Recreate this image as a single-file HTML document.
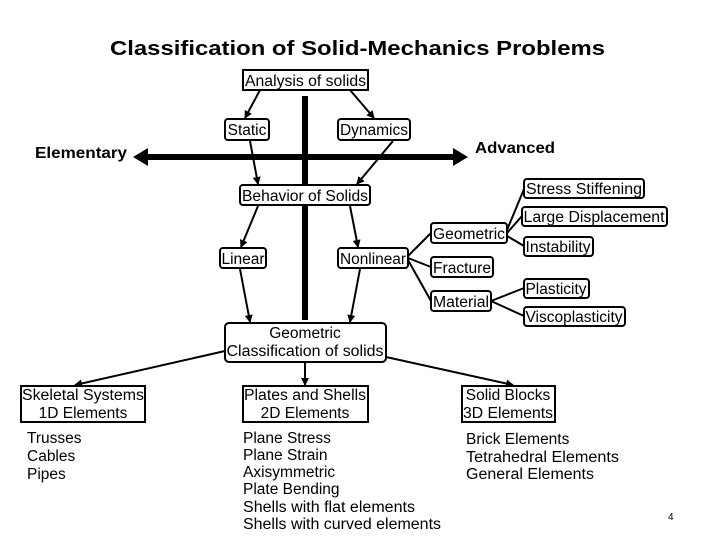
<!DOCTYPE html>
<html><head><meta charset="utf-8"><style>
body{margin:0;background:#fff;}
svg{display:block;}
text{font-family:"Liberation Sans",sans-serif;fill:#000;}
</style></head><body>
<svg width="719" height="539" viewBox="0 0 719 539" xmlns="http://www.w3.org/2000/svg">
<defs>
<marker id="a" markerWidth="8" markerHeight="8" refX="7" refY="4" orient="auto" markerUnits="userSpaceOnUse"><path d="M0,0 L8,4 L0,8 z" fill="#000"/></marker>
</defs>
<text x="110" y="55" font-size="20" font-weight="bold" textLength="495" lengthAdjust="spacingAndGlyphs">Classification of Solid-Mechanics Problems</text>
<rect x="302" y="96" width="6" height="224" fill="#000"/>
<line x1="145" y1="157" x2="455" y2="157" stroke="#000" stroke-width="6"/>
<path d="M133,157 L148,148 L148,166 z" fill="#000"/>
<path d="M468,157 L453,148 L453,166 z" fill="#000"/>
<text x="35" y="158" font-size="16" font-weight="bold" textLength="92" lengthAdjust="spacingAndGlyphs">Elementary</text>
<text x="475" y="153" font-size="16" font-weight="bold" textLength="80" lengthAdjust="spacingAndGlyphs">Advanced</text>
<g fill="#fff" stroke="#000" stroke-width="2">
<rect x="243" y="70" width="125" height="20"/>
<rect x="225" y="119" width="44" height="21" rx="3"/>
<rect x="338" y="119" width="72" height="21" rx="3"/>
<rect x="240" y="185" width="130" height="20" rx="3"/>
<rect x="220" y="248" width="46" height="20" rx="3"/>
<rect x="338" y="248" width="70" height="20" rx="3"/>
<rect x="431" y="223" width="76" height="20" rx="3"/>
<rect x="431" y="257" width="62" height="20" rx="3"/>
<rect x="431" y="291" width="60" height="20" rx="3"/>
<rect x="524" y="179" width="120" height="19" rx="3"/>
<rect x="522" y="207" width="145" height="19" rx="3"/>
<rect x="524" y="237" width="69" height="19" rx="3"/>
<rect x="524" y="279" width="65" height="19" rx="3"/>
<rect x="524" y="307" width="101" height="19" rx="3"/>
<rect x="225" y="323" width="161" height="39" rx="4"/>
<rect x="21" y="386" width="124" height="36"/>
<rect x="243" y="386" width="125" height="36"/>
<rect x="462" y="386" width="93" height="36"/>
</g>
<g stroke="#000" stroke-width="2" fill="none">
<line x1="260" y1="90" x2="245" y2="118" marker-end="url(#a)"/>
<line x1="350" y1="90" x2="374" y2="118" marker-end="url(#a)"/>
<line x1="250" y1="141" x2="258" y2="184" marker-end="url(#a)"/>
<line x1="393" y1="141" x2="357" y2="184" marker-end="url(#a)"/>
<line x1="258" y1="206" x2="241" y2="247" marker-end="url(#a)"/>
<line x1="350" y1="206" x2="358" y2="247" marker-end="url(#a)"/>
<line x1="240" y1="269" x2="250" y2="322" marker-end="url(#a)"/>
<line x1="360" y1="269" x2="350" y2="322" marker-end="url(#a)"/>
<line x1="408" y1="256" x2="431" y2="233"/>
<line x1="408" y1="258" x2="431" y2="267"/>
<line x1="408" y1="260" x2="431" y2="301"/>
<line x1="507" y1="230" x2="524" y2="189"/>
<line x1="507" y1="233" x2="522" y2="216"/>
<line x1="507" y1="236" x2="524" y2="246"/>
<line x1="491" y1="301" x2="524" y2="288"/>
<line x1="491" y1="301" x2="524" y2="316"/>
<line x1="225" y1="351" x2="75" y2="385" marker-end="url(#a)"/>
<line x1="386" y1="357" x2="513" y2="385" marker-end="url(#a)"/>
<line x1="305" y1="362" x2="305" y2="385" marker-end="url(#a)"/>
</g>
<g font-size="15.5">
<text x="305.5" y="86" text-anchor="middle" textLength="121" lengthAdjust="spacingAndGlyphs">Analysis of solids</text>
<text x="247" y="135" text-anchor="middle">Static</text>
<text x="374" y="135" text-anchor="middle" textLength="68" lengthAdjust="spacingAndGlyphs">Dynamics</text>
<text x="305" y="201" text-anchor="middle" textLength="126" lengthAdjust="spacingAndGlyphs">Behavior of Solids</text>
<text x="243" y="264" text-anchor="middle">Linear</text>
<text x="373" y="264" text-anchor="middle" textLength="66" lengthAdjust="spacingAndGlyphs">Nonlinear</text>
<text x="469" y="239" text-anchor="middle" textLength="72" lengthAdjust="spacingAndGlyphs">Geometric</text>
<text x="462" y="273" text-anchor="middle" textLength="58" lengthAdjust="spacingAndGlyphs">Fracture</text>
<text x="461" y="307" text-anchor="middle" textLength="56" lengthAdjust="spacingAndGlyphs">Material</text>
<text x="584" y="194" text-anchor="middle" textLength="116" lengthAdjust="spacingAndGlyphs">Stress Stiffening</text>
<text x="594" y="222" text-anchor="middle" textLength="141" lengthAdjust="spacingAndGlyphs">Large Displacement</text>
<text x="558" y="252" text-anchor="middle" textLength="65" lengthAdjust="spacingAndGlyphs">Instability</text>
<text x="556" y="294" text-anchor="middle" textLength="61" lengthAdjust="spacingAndGlyphs">Plasticity</text>
<text x="574" y="322" text-anchor="middle" textLength="97" lengthAdjust="spacingAndGlyphs">Viscoplasticity</text>
<text x="305" y="338" text-anchor="middle">Geometric</text>
<text x="305" y="356" text-anchor="middle" textLength="157" lengthAdjust="spacingAndGlyphs">Classification of solids</text>
<text x="83" y="400" text-anchor="middle" textLength="122" lengthAdjust="spacingAndGlyphs">Skeletal Systems</text>
<text x="83" y="418" text-anchor="middle">1D Elements</text>
<text x="305" y="400" text-anchor="middle" textLength="122" lengthAdjust="spacingAndGlyphs">Plates and Shells</text>
<text x="305" y="418" text-anchor="middle">2D Elements</text>
<text x="508" y="400" text-anchor="middle">Solid Blocks</text>
<text x="508" y="418" text-anchor="middle" textLength="90" lengthAdjust="spacingAndGlyphs">3D Elements</text>
<text x="27" y="443">Trusses</text>
<text x="27" y="461">Cables</text>
<text x="27" y="479">Pipes</text>
<text x="243" y="443">Plane Stress</text>
<text x="243" y="460">Plane Strain</text>
<text x="243" y="477">Axisymmetric</text>
<text x="243" y="494">Plate Bending</text>
<text x="243" y="512" textLength="172" lengthAdjust="spacingAndGlyphs">Shells with flat elements</text>
<text x="243" y="529" textLength="198" lengthAdjust="spacingAndGlyphs">Shells with curved elements</text>
<text x="466" y="444">Brick Elements</text>
<text x="466" y="462" textLength="153" lengthAdjust="spacingAndGlyphs">Tetrahedral Elements</text>
<text x="466" y="479" textLength="128" lengthAdjust="spacingAndGlyphs">General Elements</text>
</g>
<text x="668" y="520" font-size="10">4</text>
</svg>
</body></html>
